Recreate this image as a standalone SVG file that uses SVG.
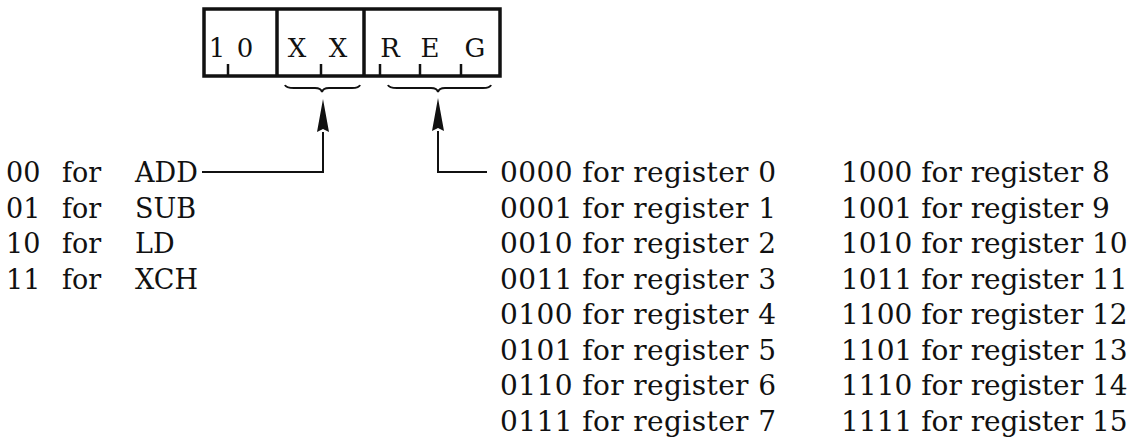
<svg xmlns="http://www.w3.org/2000/svg" width="1138" height="441" viewBox="0 0 1138 441">
<style>
text{font-family:"DejaVu Serif","Liberation Serif",serif;font-size:27px;fill:#111}
.r{font-size:28px}
.box{fill:none;stroke:#111;stroke-width:3.5}
.tick{stroke:#111;stroke-width:2.5}
.brace{fill:none;stroke:#111;stroke-width:2}
.conn{fill:none;stroke:#111;stroke-width:2}
.bl{font-size:26px;text-anchor:middle}
</style>
<defs>
<marker id="ah" viewBox="0 0 33 12" markerWidth="33" markerHeight="12" refX="0" refY="6" orient="auto" markerUnits="userSpaceOnUse">
<path d="M0,0 L33,6 L0,12 L3,6 z" fill="#111"/>
</marker>
</defs>
<rect width="1138" height="441" fill="#fff"/>
<g id="instruction">
<rect class="box" x="204" y="9" width="296" height="67"/>
<line class="box" x1="277" y1="9" x2="277" y2="76"/>
<line class="box" x1="364" y1="9" x2="364" y2="76"/>
<line class="tick" x1="228" y1="64" x2="228" y2="76"/>
<line class="tick" x1="321" y1="64" x2="321" y2="76"/>
<line class="tick" x1="380" y1="64" x2="380" y2="76"/>
<line class="tick" x1="420" y1="64" x2="420" y2="76"/>
<line class="tick" x1="461" y1="64" x2="461" y2="76"/>
<text class="bl" x="217" y="57">1</text>
<text class="bl" x="245" y="57">0</text>
<text class="bl" x="297" y="57">X</text>
<text class="bl" x="338" y="57">X</text>
<text class="bl" x="390" y="57">R</text>
<text class="bl" x="430" y="57">E</text>
<text class="bl" x="475" y="57">G</text>
</g>
<g id="brace-xx">
<path class="brace" d="M285,85 Q286,88 294,88 L315,88 Q321,88 322,92 Q323,88 329,88 L352,88 Q359,88 360,85"/>
</g>
<g id="brace-reg">
<path class="brace" d="M388,85 Q389,88 397,88 L431,88 Q437,88 438,92 Q439,88 445,88 L483,88 Q490,88 491,85"/>
</g>
<g id="connectors">
<path class="conn" d="M202,172 H323 V132" marker-end="url(#ah)"/>
<path class="conn" d="M487,172 H438 V131" marker-end="url(#ah)"/>
</g>
<g id="ops">
<text y="182"><tspan x="6">00</tspan><tspan x="62">for</tspan><tspan x="135">ADD</tspan></text>
<text y="217.5"><tspan x="6">01</tspan><tspan x="62">for</tspan><tspan x="135">SUB</tspan></text>
<text y="253"><tspan x="6">10</tspan><tspan x="62">for</tspan><tspan x="135">LD</tspan></text>
<text y="288.5"><tspan x="6">11</tspan><tspan x="62">for</tspan><tspan x="135">XCH</tspan></text>
</g>
<g id="regs-low">
<text class="r" x="500" y="182" textLength="276" lengthAdjust="spacing">0000 for register 0</text>
<text class="r" x="500" y="217.5" textLength="276" lengthAdjust="spacing">0001 for register 1</text>
<text class="r" x="500" y="253" textLength="276" lengthAdjust="spacing">0010 for register 2</text>
<text class="r" x="500" y="288.5" textLength="276" lengthAdjust="spacing">0011 for register 3</text>
<text class="r" x="500" y="324" textLength="276" lengthAdjust="spacing">0100 for register 4</text>
<text class="r" x="500" y="359.5" textLength="276" lengthAdjust="spacing">0101 for register 5</text>
<text class="r" x="500" y="395" textLength="276" lengthAdjust="spacing">0110 for register 6</text>
<text class="r" x="500" y="430.5" textLength="276" lengthAdjust="spacing">0111 for register 7</text>
</g>
<g id="regs-high">
<text class="r" x="841" y="182">1000 for register 8</text>
<text class="r" x="841" y="217.5">1001 for register 9</text>
<text class="r" x="841" y="253">1010 for register 10</text>
<text class="r" x="841" y="288.5">1011 for register 11</text>
<text class="r" x="841" y="324">1100 for register 12</text>
<text class="r" x="841" y="359.5">1101 for register 13</text>
<text class="r" x="841" y="395">1110 for register 14</text>
<text class="r" x="841" y="430.5">1111 for register 15</text>
</g>
</svg>
